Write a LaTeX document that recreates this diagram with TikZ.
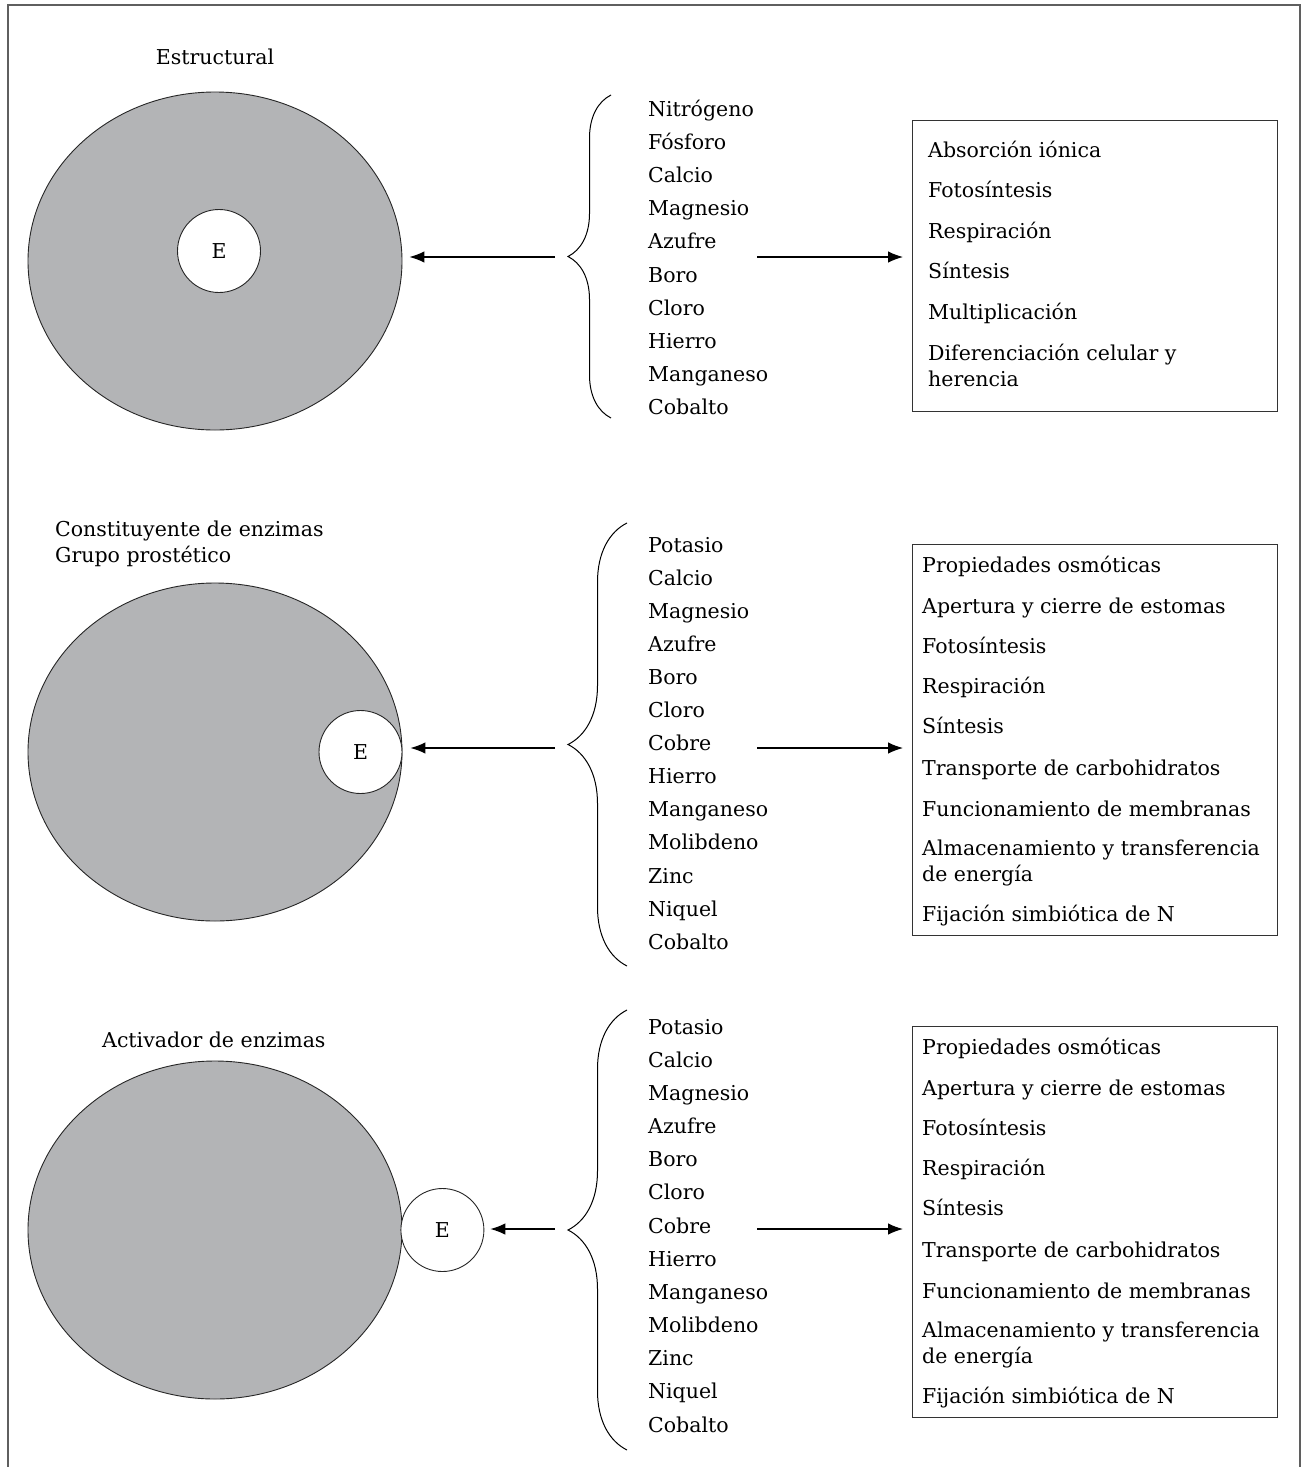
\documentclass[tikz,border=0pt]{standalone}
\usepackage{fontspec}
\setmainfont{DejaVu Serif}
\usetikzlibrary{shapes.geometric,arrows.meta,decorations.pathreplacing}

\begin{document}
\begin{tikzpicture}[x=1pt, y=-1pt, font=\fontsize{20.5}{26}\selectfont, >={Latex[length=15pt,width=11.5pt]}]

      % Colors: cell grey and frame grey
      \definecolor{cellfill}{RGB}{179,180,182}
      \definecolor{framegray}{RGB}{95,95,95}

      \tikzset{
        cell/.style={ellipse, draw=black!85, line width=0.9pt, fill=cellfill,
          minimum width=374pt, minimum height=338pt, inner sep=0pt},
        enz/.style={circle, draw=black!85, line width=0.9pt, fill=white,
          minimum size=83pt, inner sep=0pt},
        item/.style={anchor=base west, inner sep=0pt, align=left},
        funcbox/.style={draw=black!80, line width=1.3pt, minimum width=365pt, anchor=north west},
        arr/.style={->, line width=1.2pt},
        bracket/.style={decorate, line width=1pt, decoration={brace, amplitude=#1}},
      }

      \useasboundingbox (0,0) rectangle (1302,1467);

      % open frame (no bottom line)
      \draw[framegray, line width=1.5pt] (8,1467) -- (8,5) -- (1300,5) -- (1300,1467);

      % --- Row 1: Estructural ---
      \node[item, anchor=base] (t1) at (215,64) {Estructural};
      \node[cell] (cell1) at (215,261) {};
      \node[enz] (e1) at (219,251) {E};

      \draw[bracket=43pt] (611,418) -- (611,95);
      \foreach \el [count=\i] in {Nitrógeno, Fósforo, Calcio, Magnesio, Azufre, Boro, Cloro, Hierro, Manganeso, Cobalto}
        \node[item] (n1-\i) at (648,{116+33.2*(\i-1)}) {\el};

      \node[funcbox, minimum height=291pt] (f1) at (912,120) {};
      \foreach \y/\txt [count=\i] in {157/Absorción iónica, 197/Fotosíntesis, 238/Respiración, 278/Síntesis,
          319/Multiplicación, 386/{Diferenciación celular y\\herencia}}
        \node[item] (g1-\i) at (928,\y) {\txt};

      \coordinate (l1) at (555,257);
      \draw[arr, shorten >=7pt] (l1) -- (l1 -| cell1.east);
      \coordinate (r1) at (757,257);
      \draw[arr, shorten >=9pt] (r1) -- (r1 -| f1.west);

      % --- Row 2: Constituyente de enzimas ---
      \node[item] (t2) at (55,562) {Constituyente de enzimas\\Grupo prostético};
      \node[cell] (cell2) at (215,752) {};
      \node[enz, anchor=east] (e2) at (cell2.east) {E};

      \draw[bracket=59pt] (627,966) -- (627,523);
      \foreach \el [count=\i] in {Potasio, Calcio, Magnesio, Azufre, Boro, Cloro, Cobre, Hierro, Manganeso, Molibdeno, Zinc, Niquel, Cobalto}
        \node[item] (n2-\i) at (648,{552+33.1*(\i-1)}) {\el};

      \node[funcbox, minimum height=391pt] (f2) at (912,544) {};
      \foreach \y/\txt [count=\i] in {572/Propiedades osmóticas, 613/Apertura y cierre de estomas, 653/Fotosíntesis,
          693/Respiración, 733/Síntesis, 775/Transporte de carbohidratos, 816/Funcionamiento de membranas,
          881/{Almacenamiento y transferencia\\de energía}, 921/Fijación simbiótica de N}
        \node[item] (g2-\i) at (922,\y) {\txt};

      \coordinate (l2) at (555,748);
      \draw[arr, shorten >=8pt] (l2) -- (l2 -| e2.east);
      \coordinate (r2) at (757,748);
      \draw[arr, shorten >=9pt] (r2) -- (r2 -| f2.west);

      % --- Row 3: Activador de enzimas ---
      \node[item] (t3) at (102,1047) {Activador de enzimas};
      \node[cell] (cell3) at (215,1230) {};
      \node[enz, anchor=west, xshift=-2pt] (e3) at (cell3.east) {E};

      \draw[bracket=59pt] (627,1450) -- (627,1010);
      \foreach \el [count=\i] in {Potasio, Calcio, Magnesio, Azufre, Boro, Cloro, Cobre, Hierro, Manganeso, Molibdeno, Zinc, Niquel, Cobalto}
        \node[item] (n3-\i) at (648,{1034+33.17*(\i-1)}) {\el};

      \node[funcbox, minimum height=391pt] (f3) at (912,1026) {};
      \foreach \y/\txt [count=\i] in {1054/Propiedades osmóticas, 1095/Apertura y cierre de estomas, 1135/Fotosíntesis,
          1175/Respiración, 1215/Síntesis, 1257/Transporte de carbohidratos, 1298/Funcionamiento de membranas,
          1363/{Almacenamiento y transferencia\\de energía}, 1403/Fijación simbiótica de N}
        \node[item] (g3-\i) at (922,\y) {\txt};

      \coordinate (l3) at (555,1229);
      \draw[arr, shorten >=6pt] (l3) -- (l3 -| e3.east);
      \coordinate (r3) at (757,1229);
      \draw[arr, shorten >=9pt] (r3) -- (r3 -| f3.west);

    \end{tikzpicture}
\end{document}
